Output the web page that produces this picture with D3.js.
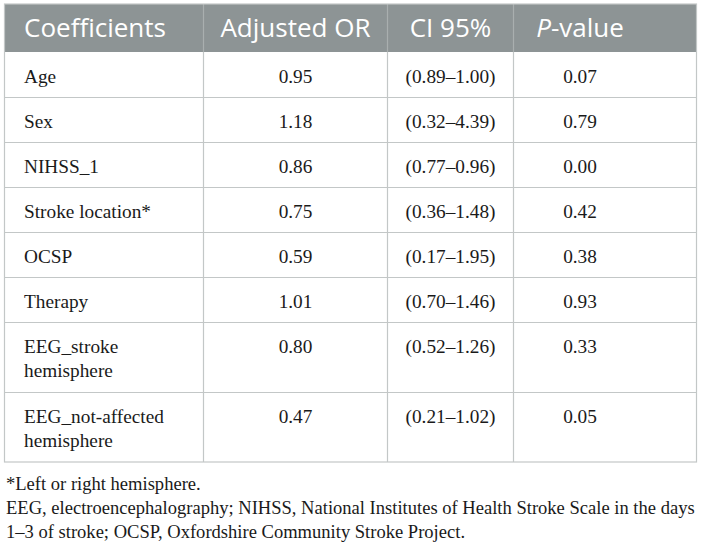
<!DOCTYPE html>
<html>
<head>
<meta charset="utf-8">
<script src="https://cdn.jsdelivr.net/npm/d3@7/dist/d3.min.js"></script>
<style>
  html, body { margin: 0; padding: 0; background: #ffffff; }
  svg { display: block; }
</style>
</head>
<body>
<svg id="chart" width="702" height="548"></svg>
<script>
// ---- data ----
const headers = ["Coefficients", "Adjusted OR", "CI 95%", "P-value"];
const coefficients = [
  ["Age"],
  ["Sex"],
  ["NIHSS_1"],
  ["Stroke location*"],
  ["OCSP"],
  ["Therapy"],
  ["EEG_stroke", "hemisphere"],
  ["EEG_not-affected", "hemisphere"]
];
const adjustedOR = ["0.95", "1.18", "0.86", "0.75", "0.59", "1.01", "0.80", "0.47"];
const ci95 = ["(0.89\u20131.00)", "(0.32\u20134.39)", "(0.77\u20130.96)", "(0.36\u20131.48)",
              "(0.17\u20131.95)", "(0.70\u20131.46)", "(0.52\u20131.26)", "(0.21\u20131.02)"];
const pValues = ["0.07", "0.79", "0.00", "0.42", "0.38", "0.93", "0.33", "0.05"];
const footnotes = [
  "*Left or right hemisphere.",
  "EEG, electroencephalography; NIHSS, National Institutes of Health Stroke Scale in the days",
  "1\u20133 of stroke; OCSP, Oxfordshire Community Stroke Project."
];

// ---- layout ----
const svg = d3.select("#chart");
const colEdges = [4.5, 203.5, 387.5, 513.5, 696.5];
const tableTop = 4, headerH = 48, singleH = 45, doubleH = 70;
const headerFill = "#8d9495", lineColor = "#c3c7c7", textColor = "#1a1a1a";
const sansFont = "'Open Sans', sans-serif";
const serifFont = "'Liberation Serif', 'DejaVu Serif', serif";

// measure helper to fit font sizes to reference widths
function fitSize(str, family, target, weight) {
  const t = svg.append("text").attr("font-family", family).attr("font-size", 100)
    .attr("font-weight", weight || "normal").text(str);
  const w = t.node().getComputedTextLength();
  t.remove();
  return 100 * target / w;
}
const headSize = fitSize("Coefficients", sansFont, 142);
const bodySize = fitSize("Stroke location*", serifFont, 127);
const footSize = fitSize(footnotes[1], serifFont, 689);

// row tops
const rowHeights = coefficients.map(c => c.length > 1 ? doubleH : singleH);
const rowTops = [];
let acc = tableTop + headerH;
rowHeights.forEach(h => { rowTops.push(acc); acc += h; });
const tableBottom = acc;

const x = d3.scaleOrdinal().domain(d3.range(4)).range(colEdges.slice(0, 4));
const centers = [null, (colEdges[1] + colEdges[2]) / 2, (colEdges[2] + colEdges[3]) / 2, 580];

// header
svg.append("rect").attr("x", colEdges[0]).attr("y", tableTop)
  .attr("width", colEdges[4] - colEdges[0]).attr("height", headerH)
  .attr("fill", headerFill);

// body lines
const g = svg.append("g");
rowTops.forEach((t, i) => {
  if (i > 0) g.append("line").attr("x1", colEdges[0]).attr("x2", colEdges[4])
    .attr("y1", t + 0.5).attr("y2", t + 0.5).attr("stroke", lineColor).attr("stroke-width", 1.2);
});
// vertical dividers
colEdges.slice(1, 4).forEach(cx => {
  g.append("line").attr("x1", cx).attr("x2", cx).attr("y1", tableTop).attr("y2", tableTop + headerH)
    .attr("stroke", "#a9afaf").attr("stroke-width", 1.2);
  g.append("line").attr("x1", cx).attr("x2", cx).attr("y1", tableTop + headerH).attr("y2", tableBottom)
    .attr("stroke", lineColor).attr("stroke-width", 1.2);
});
// outer border
g.append("rect").attr("x", colEdges[0]).attr("y", tableTop)
  .attr("width", colEdges[4] - colEdges[0]).attr("height", tableBottom - tableTop)
  .attr("fill", "none").attr("stroke", lineColor).attr("stroke-width", 1.2);

// header text
const headBase = tableTop + 33;
headers.forEach((h, i) => {
  const t = svg.append("text").attr("y", headBase).attr("fill", "#ffffff")
    .attr("font-family", sansFont).attr("font-size", headSize);
  if (i === 0) t.attr("x", 24).attr("text-anchor", "start");
  else t.attr("x", centers[i]).attr("text-anchor", "middle");
  if (h === "P-value") {
    t.append("tspan").attr("font-style", "italic").text("P");
    t.append("tspan").text("-value");
  } else t.text(h);
});

// body text
const lineGap = 24;
coefficients.forEach((lines, i) => {
  const base = rowTops[i] + 31;
  const t = svg.append("text").attr("font-family", serifFont).attr("font-size", bodySize)
    .attr("fill", textColor).attr("x", 24).attr("y", base);
  lines.forEach((ln, j) => t.append("tspan").attr("x", 24).attr("y", base + j * lineGap).text(ln));
  [adjustedOR, ci95, pValues].forEach((arr, k) => {
    svg.append("text").attr("font-family", serifFont).attr("font-size", bodySize)
      .attr("fill", textColor).attr("x", centers[k + 1]).attr("y", base)
      .attr("text-anchor", "middle").text(arr[i]);
  });
});

// footnotes
footnotes.forEach((f, i) => {
  svg.append("text").attr("font-family", serifFont).attr("font-size", footSize)
    .attr("fill", textColor).attr("x", 6).attr("y", tableBottom + 28 + i * 24).text(f);
});
</script>
</body>
</html>
